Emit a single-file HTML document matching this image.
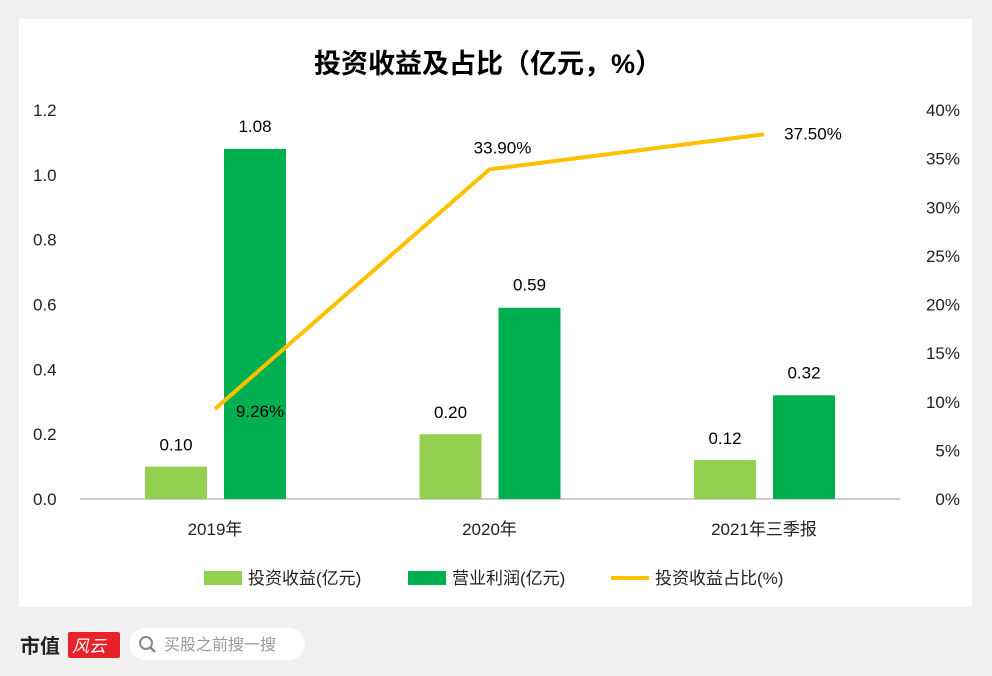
<!DOCTYPE html>
<html><head><meta charset="utf-8"><style>
body{margin:0;width:992px;height:676px;background:#f0f0f0;font-family:"Liberation Sans","Noto Sans CJK SC",sans-serif;overflow:hidden;position:relative}
#card{position:absolute;left:19px;top:19px;width:953px;height:588px;background:#fff}
svg text{font-family:"Liberation Sans","Noto Sans CJK SC",sans-serif}
</style></head><body>
<div id="card"></div>
<svg id="chart" width="992" height="676" style="position:absolute;left:0;top:0">
<text x="488" y="73" text-anchor="middle" font-size="27" font-weight="bold" fill="#000">投资收益及占比（亿元，%）</text>
<line x1="80" y1="499" x2="900" y2="499" stroke="#bfbfbf" stroke-width="1.5"/>
<g id="g"></g>
<g>
<rect x="204" y="571" width="38" height="14" fill="#92d050"/>
<text x="248" y="584" font-size="17" fill="#222">投资收益(亿元)</text>
<rect x="408" y="571" width="38" height="14" fill="#00b050"/>
<text x="452" y="584" font-size="17" fill="#222">营业利润(亿元)</text>
<line x1="611" y1="578" x2="649" y2="578" stroke="#ffc000" stroke-width="4"/>
<text x="655" y="584" font-size="17" fill="#222">投资收益占比(%)</text>
</g>
<g>
<text x="20" y="653" font-size="20" font-weight="bold" fill="#222" font-family="Noto Serif CJK SC,serif">市值</text>
<rect x="68" y="632" width="52" height="26" fill="#e8212b" rx="2"/>
<text x="72" y="652" font-size="17" fill="#fff" font-style="italic">风云</text>
</g>
<g>
<rect x="129" y="628" width="176" height="32" rx="16" fill="#fff"/>
<circle cx="146" cy="643" r="6" fill="none" stroke="#888" stroke-width="2"/>
<line x1="150" y1="647" x2="155" y2="652" stroke="#888" stroke-width="2.5"/>
<text x="164" y="650" font-size="16" fill="#999">买股之前搜一搜</text>
</g>
</svg>
<script>
const categories=["2019年","2020年","2021年三季报"];
const investment=[0.10,0.20,0.12];
const profit=[1.08,0.59,0.32];
const ratio=[9.26,33.90,37.50];
const leftTicks=["0.0","0.2","0.4","0.6","0.8","1.0","1.2"];
const rightTicks=["0%","5%","10%","15%","20%","25%","30%","35%","40%"];
const NS="http://www.w3.org/2000/svg";
const g=document.getElementById('g');
const yL=v=>499-v/1.2*389;
const yR=v=>499-v/40*389;
const xC=i=>215+i*274.5;
function el(t,a,txt){const e=document.createElementNS(NS,t);for(const k in a)e.setAttribute(k,a[k]);if(txt!=null)e.textContent=txt;g.appendChild(e);return e;}
leftTicks.forEach((t,i)=>{const e=el('text',{x:33,y:yL(+t)+6,'font-size':17,fill:'#222'},t);

});
rightTicks.forEach((t,i)=>{const e=el('text',{x:960,y:yR(parseFloat(t))+6,'font-size':17,fill:'#222','text-anchor':'end'},t);

});
categories.forEach((c,i)=>{const x=xC(i);
const e=el('text',{x:x,y:535,'font-size':17,fill:'#222','text-anchor':'middle'},c);


const b1=el('rect',{x:x-70,y:yL(investment[i]),width:62,height:499-yL(investment[i]),fill:'#92d050'});


const t1=el('text',{x:x-39,y:yL(investment[i])-16,'font-size':17,fill:'#000','text-anchor':'middle'},investment[i].toFixed(2));


const b2=el('rect',{x:x+9,y:yL(profit[i]),width:62,height:499-yL(profit[i]),fill:'#00b050'});


const t2=el('text',{x:x+40,y:yL(profit[i])-17,'font-size':17,fill:'#000','text-anchor':'middle'},profit[i].toFixed(2));

});
const pl=el('polyline',{points:ratio.map((v,i)=>xC(i)+','+yR(v)).join(' '),fill:'none',stroke:'#ffc000','stroke-width':4,'stroke-linejoin':'round'});


const lblDx=[45,13,49], lblDy=[8,-16,5];
ratio.forEach((v,i)=>{const t=el('text',{x:xC(i)+lblDx[i],y:yR(v)+lblDy[i],'font-size':17,fill:'#000','text-anchor':'middle'},v.toFixed(2)+'%');

});
</script>
</body></html>
